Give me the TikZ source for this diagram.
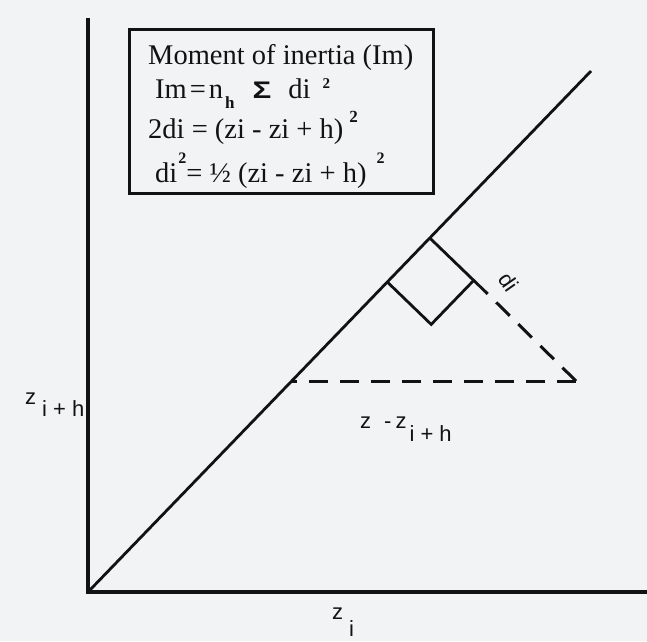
\documentclass[tikz,border=0pt]{standalone}
\usepackage{fontspec}
\usepackage{graphicx}
\setmainfont{Liberation Serif}
\newfontfamily\arialf{Liberation Sans}
\definecolor{bgcol}{RGB}{242,243,244}
\definecolor{ink}{RGB}{18,18,18}
\begin{document}
\begin{tikzpicture}[x=1pt,y=-1pt,
  axisline/.style={draw=ink,line width=3.3pt},
  diagline/.style={draw=ink,line width=2.8pt},
  dashline/.style={draw=ink,line width=3pt,dash pattern=on 19pt off 12pt},
  boxtext/.style={anchor=base west,inner sep=0pt,text=ink,font=\fontsize{28.5}{28.5}\selectfont},
  lbl/.style={anchor=base west,inner sep=0pt,font=\arialf\fontsize{22}{22}\selectfont,text=ink}]
\fill[bgcol] (0,0) rectangle (647,641);
\useasboundingbox (0,0) rectangle (647,641);
% axes
\coordinate (O) at (88,592);
\coordinate (Ytop) at (88,18);
\coordinate (Xend) at (647,592);
\coordinate (Dend) at (591,71);
\draw[axisline,line join=miter] (Ytop) -- (O) -- (Xend);
\draw[diagline] (O) -- (Dend);
% right-angle square and perpendicular
\coordinate (A) at (387.3,282);
\coordinate (B) at (429.8,238);
\coordinate (C) at (473.7,280.4);
\coordinate (D) at (431.2,324.4);
\coordinate (E) at (485.2,291.5);
\coordinate (F) at (576,381);
\coordinate (G) at (291.7,381);
\draw[diagline] (A) -- (D) -- (C);
\draw[diagline] (B) -- (E);
\draw[dashline] (F) -- (E);
\draw[dashline] (F) -- (G);
% formula box
\node[draw=ink,line width=3pt,minimum width=304pt,minimum height=164pt,anchor=north west,inner sep=0pt] (box) at (128,28) {};
\node[boxtext] (t1) at (148,64) {Moment of inertia (Im)};
\node[boxtext] (t2) at (155,98) {Im\hspace{3pt}=\hspace{3pt}n\hspace{2pt}\raisebox{-10pt}{\fontsize{17}{17}\selectfont\bfseries h}\hspace{18pt}{\arialf\bfseries\fontsize{24}{24}\selectfont\scalebox{1.3}[1]{Σ}}\hspace{17pt}di\hspace{12pt}\raisebox{10pt}{\fontsize{15}{15}\selectfont\bfseries 2}};
\node[boxtext] (t3) at (148,138) {2di = (zi - zi + h)\hspace{6pt}\raisebox{16pt}{\fontsize{17}{17}\selectfont\bfseries 2}};
\node[boxtext] (t4) at (155,182) {di\hspace{1pt}\raisebox{19pt}{\fontsize{16}{16}\selectfont\bfseries 2}= ½ (zi - zi + h)\hspace{10pt}\raisebox{19pt}{\fontsize{16}{16}\selectfont\bfseries 2}};
% labels
\node[lbl] (lzih) at (25,404) {z\hspace{6pt}\raisebox{-12pt}{i + h}};
\node[lbl] (lzi) at (332,619) {z\hspace{6pt}\raisebox{-17pt}{i}};
\node[lbl] (ldiff) at (360,428) {z\hspace{13pt}-\hspace{4pt}z\hspace{3pt}\raisebox{-13pt}{i + h}};
\node[lbl,anchor=center,rotate=-55] (ldi) at (509,282) {di};
\end{tikzpicture}
\end{document}
